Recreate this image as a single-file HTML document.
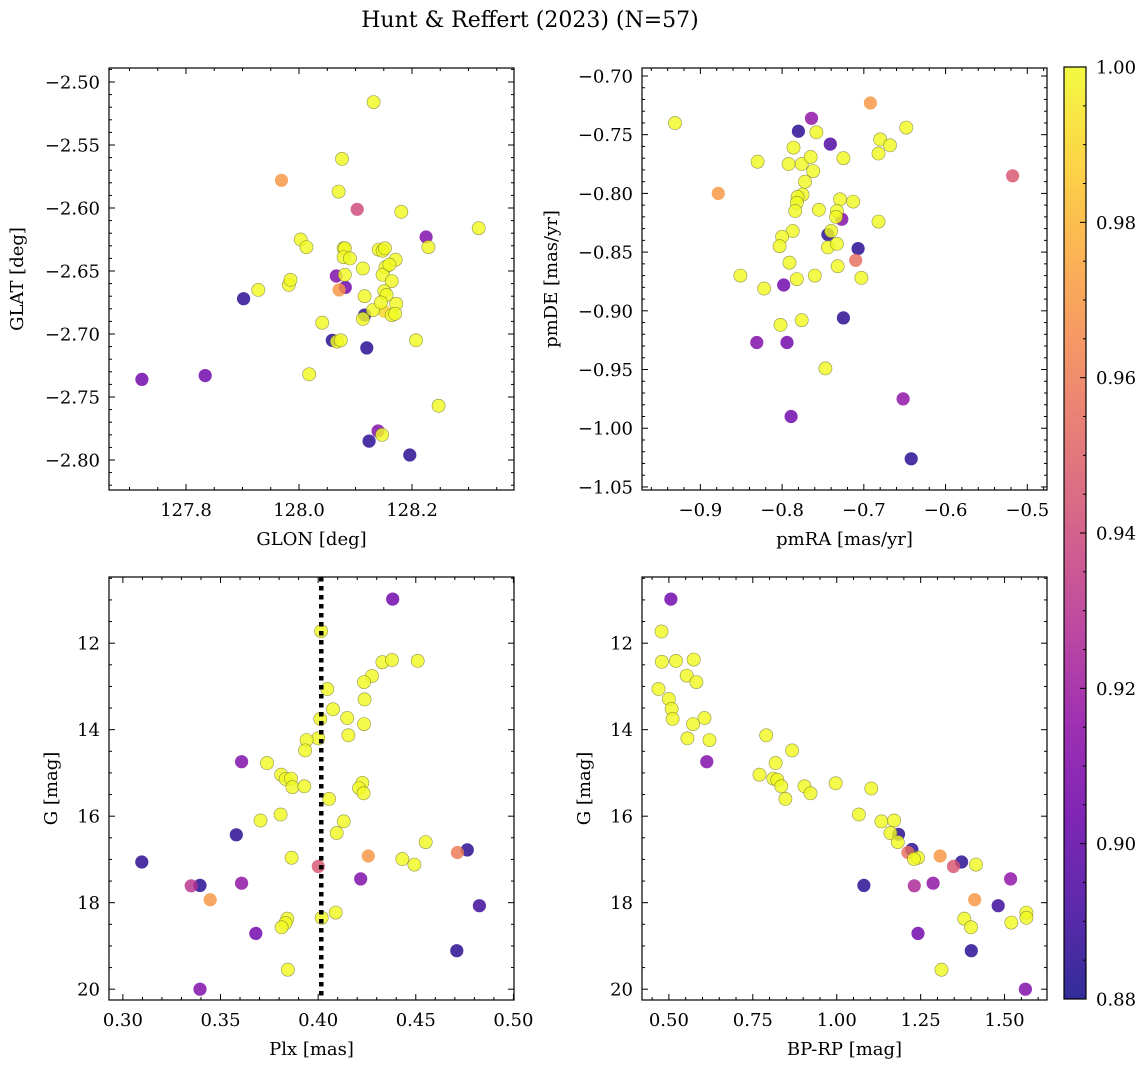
<!DOCTYPE html>
<html><head><meta charset="utf-8">
<style>
html,body{margin:0;padding:0;background:#fff;}
svg{display:block;font-family:"DejaVu Serif","Liberation Serif",serif;}
</style></head>
<body>
<svg id="fig" width="1148" height="1067" viewBox="0 0 1148 1067" xmlns="http://www.w3.org/2000/svg">
<text x="530" y="27" font-size="22" text-anchor="middle">Hunt &amp; Reffert (2023) (N=57)</text>
</svg>
<script>
// ---- data: panel 1 (GLON vs GLAT)
const glonA = [127.722,127.834,127.902,127.928,127.969,127.982,127.985,128.003,128.013,128.018,128.041,128.059,128.067,128.074,128.066,128.081,128.082,128.071,128.076,128.070,128.079,128.081,128.079,128.103,128.132,128.113,128.116,128.116,128.113,128.131,128.120,128.181,128.141,128.148,128.152,128.171,128.153,128.148,128.164,128.151,128.155,128.151,128.172,128.164,128.170,128.207,128.225,128.229,128.318,128.247,128.140,128.147,128.124,128.196,128.090,128.145,128.160];
const glatA = [-2.736,-2.733,-2.672,-2.665,-2.578,-2.661,-2.657,-2.625,-2.631,-2.732,-2.691,-2.705,-2.706,-2.705,-2.654,-2.653,-2.663,-2.665,-2.561,-2.587,-2.632,-2.632,-2.639,-2.601,-2.516,-2.648,-2.670,-2.685,-2.688,-2.681,-2.711,-2.603,-2.633,-2.634,-2.632,-2.641,-2.647,-2.653,-2.658,-2.666,-2.669,-2.682,-2.676,-2.685,-2.684,-2.705,-2.623,-2.631,-2.616,-2.757,-2.777,-2.780,-2.785,-2.796,-2.640,-2.675,-2.645];
const probA = [0.905,0.905,0.885,1,0.97,1,1,1,1,1,1,0.885,1,1,0.91,1,0.905,0.97,1,1,1,1,1,0.94,1,1,1,0.885,1,1,0.885,1,1,1,1,1,1,1,1,1,1,0.99,1,1,1,1,0.91,1,1,1,0.91,1,0.885,0.885,1,1,1];
// ---- panel 2 (pmRA vs pmDE)
const pmraB = [-0.931,-0.692,-0.764,-0.780,-0.758,-0.741,-0.648,-0.680,-0.668,-0.682,-0.786,-0.830,-0.792,-0.776,-0.765,-0.725,-0.762,-0.772,-0.878,-0.775,-0.781,-0.782,-0.784,-0.729,-0.713,-0.755,-0.518,-0.733,-0.727,-0.734,-0.682,-0.787,-0.744,-0.740,-0.800,-0.803,-0.744,-0.733,-0.707,-0.710,-0.791,-0.732,-0.851,-0.782,-0.760,-0.703,-0.822,-0.798,-0.725,-0.802,-0.776,-0.831,-0.794,-0.747,-0.652,-0.789,-0.642];
const pmdeB = [-0.740,-0.723,-0.736,-0.747,-0.748,-0.758,-0.744,-0.754,-0.759,-0.766,-0.761,-0.773,-0.775,-0.775,-0.769,-0.770,-0.781,-0.790,-0.800,-0.801,-0.803,-0.808,-0.815,-0.805,-0.807,-0.814,-0.785,-0.815,-0.822,-0.820,-0.824,-0.832,-0.835,-0.832,-0.837,-0.845,-0.846,-0.843,-0.847,-0.857,-0.859,-0.862,-0.870,-0.873,-0.870,-0.872,-0.881,-0.878,-0.906,-0.912,-0.908,-0.927,-0.927,-0.949,-0.975,-0.990,-1.026];
const probB = [1,0.97,0.915,0.885,1,0.895,1,1,1,1,1,1,1,1,1,1,1,1,0.97,1,1,1,1,1,1,1,0.945,1,0.91,1,1,1,0.885,1,1,1,1,1,0.885,0.955,1,1,1,1,1,1,1,0.905,0.885,1,1,0.91,0.905,1,0.915,0.905,0.885];
// ---- panel 3 (Plx vs G)
const plxC = [0.4382,0.4015,0.4329,0.4378,0.4510,0.4276,0.4235,0.4238,0.4047,0.4076,0.4011,0.4149,0.4235,0.4155,0.4001,0.3941,0.3933,0.3608,0.3738,0.3811,0.3834,0.3861,0.3868,0.3929,0.4226,0.4209,0.4233,0.4056,0.3705,0.3808,0.4131,0.4095,0.3581,0.4551,0.4764,0.4713,0.3097,0.3864,0.4257,0.4431,0.4493,0.4001,0.4218,0.3350,0.3395,0.3608,0.3447,0.4826,0.4090,0.4018,0.3842,0.3833,0.3813,0.3681,0.4710,0.3845,0.3395];
const gC = [10.98,11.72,12.44,12.39,12.41,12.76,12.90,13.30,13.06,13.53,13.75,13.73,13.87,14.13,14.20,14.24,14.48,14.74,14.77,15.04,15.14,15.13,15.33,15.31,15.23,15.35,15.47,15.60,16.10,15.96,16.12,16.39,16.43,16.60,16.78,16.84,17.06,16.96,16.92,16.99,17.12,17.16,17.45,17.61,17.60,17.55,17.93,18.07,18.23,18.35,18.37,18.47,18.57,18.71,19.11,19.55,20.00];
const probC = [0.905,1,1,1,1,1,1,1,1,1,1,1,1,1,1,1,1,0.91,1,1,1,1,1,1,1,1,1,1,1,1,1,1,0.885,1,0.885,0.96,0.885,1,0.97,1,1,0.945,0.91,0.93,0.885,0.915,0.97,0.89,1,1,1,1,1,0.905,0.885,1,0.91];
const plxLine = [0.4016];
// ---- panel 4 (BP-RP vs G)
const bprpD = [0.506,0.478,0.479,0.521,0.574,0.553,0.582,0.469,0.500,0.508,0.511,0.572,0.606,0.555,0.621,0.613,0.790,0.867,0.818,0.770,0.811,0.823,0.835,0.847,0.904,0.922,0.997,1.103,1.066,1.133,1.171,1.160,1.184,1.182,1.224,1.212,1.242,1.230,1.308,1.372,1.348,1.415,1.081,1.231,1.287,1.518,1.411,1.481,1.565,1.565,1.380,1.400,1.520,1.242,1.401,1.312,1.562];
const gD = [10.98,11.73,12.43,12.41,12.38,12.75,12.90,13.06,13.29,13.52,13.75,13.87,13.73,14.20,14.24,14.74,14.13,14.48,14.77,15.04,15.13,15.16,15.31,15.60,15.31,15.47,15.24,15.36,15.96,16.12,16.10,16.39,16.42,16.60,16.77,16.84,16.96,16.99,16.92,17.06,17.16,17.12,17.60,17.61,17.55,17.45,17.93,18.07,18.23,18.35,18.37,18.57,18.46,18.71,19.11,19.55,20.00];
const probD = [0.905,1,1,1,1,1,1,1,1,1,1,1,1,1,1,0.91,1,1,1,1,1,1,1,1,1,1,1,1,1,1,1,1,0.885,1,0.885,0.955,1,1,0.97,0.885,0.945,1,0.885,0.925,0.915,0.915,0.97,0.89,1,1,1,1,1,0.905,0.885,1,0.91];
// ---- colorbar ticks
const cbTicks = [0.88,0.90,0.92,0.94,0.96,0.98,1.00];

const NS = "http://www.w3.org/2000/svg";
const fig = document.getElementById('fig');
function mk(tag, attrs, parent){const e=document.createElementNS(NS,tag);for(const k in attrs)e.setAttribute(k,attrs[k]);(parent||fig).appendChild(e);return e;}

const plasma=[[13,8,135],[65,4,157],[106,0,168],[143,13,164],[177,42,144],[204,71,120],[225,100,98],[242,132,75],[252,166,54],[252,206,37],[240,249,33]];
function cmap(t){t=Math.max(0,Math.min(1,t));const s=t*10,i=Math.min(9,Math.floor(s)),f=s-i;const a=plasma[i],b=plasma[i+1];return 'rgb('+a.map((v,k)=>Math.round(v+(b[k]-v)*f)).join(',')+')';}
function pnorm(p){return (p-0.88)/0.12;}
function fmt(v,d){const s=Math.abs(v).toFixed(d);return (v<-1e-9?'\u2212':'')+s;}
const FS=18;

function panel(cfg){
  const {x0,y0,x1,y1,xmin,xmax,ymin,ymax,name}=cfg;
  const sx=v=>x0+(v-xmin)/(xmax-xmin)*(x1-x0);
  const sy=v=>cfg.invert? y0+(v-ymin)/(ymax-ymin)*(y1-y0) : y1-(v-ymin)/(ymax-ymin)*(y1-y0);
  const g=mk('g',{});
  
  
  const pts=mk('g',{},g);
  
  
  const order=cfg.xs.map((_,i)=>i).sort((a,b)=>cfg.ps[a]-cfg.ps[b]);
  order.forEach(i=>{
    const c=mk('circle',{cx:sx(cfg.xs[i]).toFixed(1),cy:sy(cfg.ys[i]).toFixed(1),r:6.6,fill:cmap(pnorm(cfg.ps[i])),'fill-opacity':0.82,stroke:cfg.ps[i]>=0.995?'#6b6b30':'none','stroke-width':0.6,'stroke-opacity':0.7},pts);
    
    
  });
  if(cfg.vline){
    const l=mk('line',{x1:sx(cfg.vline),x2:sx(cfg.vline),y1:y0,y2:y1,stroke:'#000','stroke-width':4.5,'stroke-dasharray':'4.5,4.5'},g);
    
    
  }
  const fr=mk('rect',{x:x0,y:y0,width:x1-x0,height:y1-y0,fill:'none',stroke:'#000','stroke-width':1.2},g);
  
  
  const tk=mk('g',{stroke:'#000','stroke-width':1},g);
  
  
  const eps=1e-9;
  for(let v=Math.ceil(xmin/cfg.xminor-eps)*cfg.xminor; v<=xmax+eps; v+=cfg.xminor){
    const major=Math.abs(v/cfg.xmajor-Math.round(v/cfg.xmajor))<1e-6;const L=major?6:3;const X=sx(v);
    mk('line',{x1:X,x2:X,y1:y1,y2:y1-L},tk);mk('line',{x1:X,x2:X,y1:y0,y2:y0+L},tk);
    if(major){const t=mk('text',{x:X,y:y1+26,'font-size':FS,'text-anchor':'middle',stroke:'none',fill:'#000'},g);t.textContent=fmt(v,cfg.xdec);
      
      }
  }
  for(let v=Math.ceil(ymin/cfg.yminor-eps)*cfg.yminor; v<=ymax+eps; v+=cfg.yminor){
    const major=Math.abs(v/cfg.ymajor-Math.round(v/cfg.ymajor))<1e-6;const L=major?6:3;const Y=sy(v);
    mk('line',{x1:x0,x2:x0+L,y1:Y,y2:Y},tk);mk('line',{x1:x1,x2:x1-L,y1:Y,y2:Y},tk);
    if(major){const t=mk('text',{x:x0-9,y:Y+6.5,'font-size':FS,'text-anchor':'end',stroke:'none',fill:'#000'},g);t.textContent=fmt(v,cfg.ydec);
      
      }
  }
  const xl=mk('text',{x:(x0+x1)/2,y:y1+55,'font-size':FS,'text-anchor':'middle'},g);xl.textContent=cfg.xlabel;
  
  
  const yx=cfg.ylx, yc=(y0+y1)/2;
  const yl=mk('text',{x:yx,y:yc,'font-size':FS,'text-anchor':'middle',transform:'rotate(-90 '+yx+' '+yc+')'},g);yl.textContent=cfg.ylabel;
  
  
}

panel({name:'glon-glat-panel',x0:109,y0:68,x1:514,y1:490,xmin:127.6637,xmax:128.3805,ymin:-2.8238,ymax:-2.4889,xmajor:0.2,xminor:0.05,ymajor:0.05,yminor:0.01,xdec:1,ydec:2,xs:glonA,ys:glatA,ps:probA,xlabel:'GLON [deg]',ylabel:'GLAT [deg]',ylx:23});
panel({name:'pm-panel',x0:642,y0:68,x1:1047,y1:490,xmin:-0.9714,xmax:-0.4759,ymin:-1.0526,ymax:-0.6932,xmajor:0.1,xminor:0.02,ymajor:0.05,yminor:0.01,xdec:1,ydec:2,xs:pmraB,ys:pmdeB,ps:probB,xlabel:'pmRA [mas/yr]',ylabel:'pmDE [mas/yr]',ylx:557});
panel({name:'plx-g-panel',x0:109,y0:577,x1:514,y1:1000,xmin:0.2929,xmax:0.5003,ymin:10.47,ymax:20.25,invert:true,xmajor:0.05,xminor:0.01,ymajor:2,yminor:0.5,xdec:2,ydec:0,xs:plxC,ys:gC,ps:probC,xlabel:'Plx [mas]',ylabel:'G [mag]',ylx:57,vline:plxLine[0]});
panel({name:'cmd-panel',x0:642,y0:577,x1:1047,y1:1000,xmin:0.4199,xmax:1.6264,ymin:10.47,ymax:20.25,invert:true,xmajor:0.25,xminor:0.05,ymajor:2,yminor:0.5,xdec:2,ydec:0,xs:bprpD,ys:gD,ps:probD,xlabel:'BP-RP [mag]',ylabel:'G [mag]',ylx:590});

const cb=mk('g',{});


const defs=mk('defs',{},cb);
const lg=mk('linearGradient',{id:'pl',x1:0,y1:1,x2:0,y2:0},defs);
for(let i=0;i<=10;i++){mk('stop',{offset:(i/10),'stop-color':cmap(i/10),'stop-opacity':0.85},lg);}
const cbx0=1064,cbx1=1086,cby0=67,cby1=999;
mk('rect',{x:cbx0,y:cby0,width:cbx1-cbx0,height:cby1-cby0,fill:'url(#pl)',stroke:'#000','stroke-width':1.2},cb);
const cy=v=>cby1-(v-0.88)/0.12*(cby1-cby0);
for(let v=0.88;v<=1.0+1e-9;v+=0.005){
  const major=Math.abs(v/0.02-Math.round(v/0.02))<1e-6;
  mk('line',{x1:cbx1,x2:cbx1-(major?6:3),y1:cy(v),y2:cy(v),stroke:'#000','stroke-width':1},cb);
}
cbTicks.forEach(v=>{
  const t=mk('text',{x:cbx1+10,y:cy(v)+6.5,'font-size':FS},cb);t.textContent=v.toFixed(2);
  
  
});
</script>
</body></html>
